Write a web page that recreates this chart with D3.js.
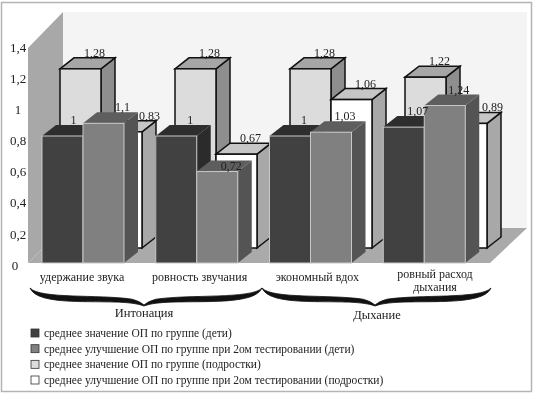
<!DOCTYPE html>
<html>
<head>
<meta charset="utf-8">
<script src="https://cdn.jsdelivr.net/npm/d3@7"></script>
<style>
  html, body { margin: 0; padding: 0; background: #fff; }
  svg { display: block; filter: blur(0.35px); }
  text { font-family: "Liberation Serif", serif; fill: #222; }
</style>
</head>
<body>
<div id="chart"></div>
<script>
// Data
const categories = ['удержание звука', 'ровность звучания', 'экономный вдох', 'ровный расход дыхания'];
const childMean = [1, 1, 1, 1.07];
const childGain = [1.1, 0.72, 1.03, 1.24];
const teenMean = [1.28, 1.28, 1.28, 1.22];
const teenGain = [0.83, 0.67, 1.06, 0.89];
const yTicks = [0, 0.2, 0.4, 0.6, 0.8, 1, 1.2, 1.4];
const groupNames = ['Интонация', 'Дыхание'];
const legendLabels = [
  'среднее значение ОП по группе (дети)',
  'среднее улучшение ОП по группе при 2ом тестировании (дети)',
  'среднее значение ОП по группе (подростки)',
  'среднее улучшение ОП по группе при 2ом тестировании (подростки)'
];

const chart_width = 534;
const chart_height = 395;
const comma = d => String(d).replace('.', ',');

const svg = d3.select('#chart')
  .append('svg')
  .attr('width', chart_width)
  .attr('height', chart_height);

// Image frame
svg.append('rect')
  .attr('x', 1.5).attr('y', 2.5)
  .attr('width', 530).attr('height', 389)
  .attr('fill', '#fff')
  .attr('stroke', '#b4b4b4')
  .attr('stroke-width', 1.5);

// Scales: the front row and the back row have their own perspective
const yFront = d3.scaleLinear().domain([0, 1]).range([263, 136]);
const yBack = d3.scaleLinear().domain([0, 1]).range([248, 108]);
const xFront = d3.scaleBand().domain(d3.range(4)).range([42, 497]).paddingInner(0).paddingOuter(0);
const xBack = d3.scaleBand().domain(d3.range(4)).range([60, 520]).paddingInner(0).paddingOuter(0);
const barW = 41;
const depthX = 14;
const depthY = 11;

// Walls and floor
svg.append('polygon')
  .attr('points', '63,12 527,12 527,228 63,228')
  .attr('fill', '#f4f4f4');
svg.append('polygon')
  .attr('points', '28,48 63,12 63,228 28,263')
  .attr('fill', '#a8a8a8');
svg.append('polygon')
  .attr('points', '28,263 63,228 527,228 490,263')
  .attr('fill', '#aaaaaa');

// Y axis labels
const yAxisScale = d3.scaleLinear().domain([0, 1.4]).range([265, 47]);
const yAxis = svg.append('g')
  .attr('transform', 'translate(24,0)')
  .call(d3.axisLeft(yAxisScale).tickValues(yTicks).tickFormat(comma).tickSize(0).tickPadding(0));
yAxis.select('.domain').remove();
yAxis.selectAll('text')
  .attr('x', d => d === 0 ? -9 : -6)
  .attr('text-anchor', 'middle')
  .style('font-family', '"Liberation Serif", serif')
  .style('font-size', '13px');

const series = [
  { values: teenMean, x: xBack, y: yBack, slot: 0, front: '#dcdcdc', top: '#a6a6a6', side: '#8e8e8e', line: '#111', lw: 1.5 },
  { values: teenGain, x: xBack, y: yBack, slot: 1, front: '#ffffff', top: '#c6c6c6', side: '#a8a8a8', line: '#111', lw: 1.5 },
  { values: childMean, x: xFront, y: yFront, slot: 0, front: '#414141', top: '#2e2e2e', side: '#2b2b2b', line: '#c8c8c8', lw: 1 },
  { values: childGain, x: xFront, y: yFront, slot: 1, front: '#808080', top: '#5e5e5e', side: '#545454', line: '#c8c8c8', lw: 1 }
];

// Manual label shifts, keyed series-category, the picture moves these so they stay readable
const labelShift = {
  '1-0': [14, 0], '1-3': [12, 0], '3-0': [5, 0], '3-1': [0, 10], '2-0': [-3, 0]
};

const bars = [];
series.forEach((s, si) => {
  s.values.forEach((v, i) => bars.push({ s, si, i, v }));
});

const barG = svg.selectAll('g.bar')
  .data(bars)
  .enter()
  .append('g')
  .attr('class', 'bar');

barG.each(function (d) {
  const g = d3.select(this);
  const x0 = d.s.x(d.i) + d.s.slot * barW;
  const x1 = x0 + barW;
  const y0 = d.s.y(0);
  const y1 = d.s.y(d.v);
  const stroke = d.s.line;
  g.append('polygon')
    .attr('points', [[x1, y1], [x1 + depthX, y1 - depthY], [x1 + depthX, y0 - depthY], [x1, y0]].join(' '))
    .attr('fill', d.s.side).attr('stroke', d.si < 2 ? stroke : 'none').attr('stroke-width', d.s.lw);
  g.append('polygon')
    .attr('points', [[x0, y1], [x0 + depthX, y1 - depthY], [x1 + depthX, y1 - depthY], [x1, y1]].join(' '))
    .attr('fill', d.s.top).attr('stroke', d.si < 2 ? stroke : 'none').attr('stroke-width', d.s.lw);
  g.append('rect')
    .attr('x', x0).attr('y', y1)
    .attr('width', barW).attr('height', y0 - y1)
    .attr('fill', d.s.front).attr('stroke', stroke).attr('stroke-width', d.s.lw);
});

// Value labels
svg.selectAll('text.val')
  .data(bars)
  .enter()
  .append('text')
  .attr('class', 'val')
  .attr('text-anchor', 'middle')
  .attr('font-size', 12)
  .attr('x', d => {
    const shift = labelShift[d.si + '-' + d.i] || [0, 0];
    return d.s.x(d.i) + d.s.slot * barW + barW / 2 + depthX + shift[0];
  })
  .attr('y', d => {
    const shift = labelShift[d.si + '-' + d.i] || [0, 0];
    return d.s.y(d.v) - depthY - 1 + shift[1];
  })
  .text(d => comma(d.v));

// Category labels
const catX = d3.scalePoint().domain(d3.range(4)).range([82, 435]);
const catY = [277, 277, 277, 274];
categories.forEach((c, i) => {
  const t = svg.append('text')
    .attr('text-anchor', 'middle')
    .attr('font-size', 12)
    .attr('x', catX(i))
    .attr('y', catY[i] + 4);
  if (i === 3) {
    t.append('tspan').attr('x', catX(i)).text('ровный расход');
    t.append('tspan').attr('x', catX(i)).attr('dy', 13).text('дыхания');
  } else {
    t.text(c);
  }
});

// Curly braces
function brace(x0, x1, xm, yTop, yTip) {
  const p = d3.path();
  const yMid = yTop + (yTip - yTop) * 0.6;
  p.moveTo(x0, yTop);
  p.bezierCurveTo(x0 + 10, yMid + 1, xm - 45, yMid - 4, xm - 12, yMid + 1);
  p.quadraticCurveTo(xm - 4, yMid + 3, xm, yTip);
  p.quadraticCurveTo(xm + 4, yMid + 3, xm + 12, yMid + 1);
  p.bezierCurveTo(xm + 45, yMid - 4, x1 - 10, yMid + 1, x1, yTop);
  p.bezierCurveTo(x1 - 8, yMid + 9, xm + 45, yMid + 1, xm + 12, yMid + 5);
  p.quadraticCurveTo(xm + 4, yMid + 6, xm, yTip + 1);
  p.quadraticCurveTo(xm - 4, yMid + 6, xm - 12, yMid + 5);
  p.bezierCurveTo(xm - 45, yMid + 1, x0 + 8, yMid + 9, x0, yTop);
  return p.toString();
}
svg.append('path').attr('d', brace(30, 262, 144, 288, 305)).attr('fill', '#111').attr('stroke', '#111').attr('stroke-width', 0.8);
svg.append('path').attr('d', brace(262, 491, 375, 288, 305)).attr('fill', '#111').attr('stroke', '#111').attr('stroke-width', 0.8);

const groupX = [144, 377];
const groupY = [317, 319];
svg.selectAll('text.group')
  .data(groupNames)
  .enter()
  .append('text')
  .attr('class', 'group')
  .attr('text-anchor', 'middle')
  .attr('font-size', 12.5)
  .attr('x', (d, i) => groupX[i])
  .attr('y', (d, i) => groupY[i])
  .text(d => d);

// Legend
const legendY = d3.scalePoint().domain(d3.range(4)).range([333, 380]);
const legendFill = ['#414141', '#808080', '#dcdcdc', '#ffffff'];
const legend = svg.selectAll('g.legend')
  .data(legendLabels)
  .enter()
  .append('g')
  .attr('class', 'legend')
  .attr('transform', (d, i) => `translate(31,${legendY(i)})`);
legend.append('rect')
  .attr('x', 0).attr('y', -4)
  .attr('width', 8).attr('height', 8)
  .attr('fill', (d, i) => legendFill[i])
  .attr('stroke', '#333')
  .attr('stroke-width', 0.8);
legend.append('text')
  .attr('x', 13)
  .attr('y', 4)
  .attr('font-size', 11.5)
  .text(d => d);
</script>
</body>
</html>
